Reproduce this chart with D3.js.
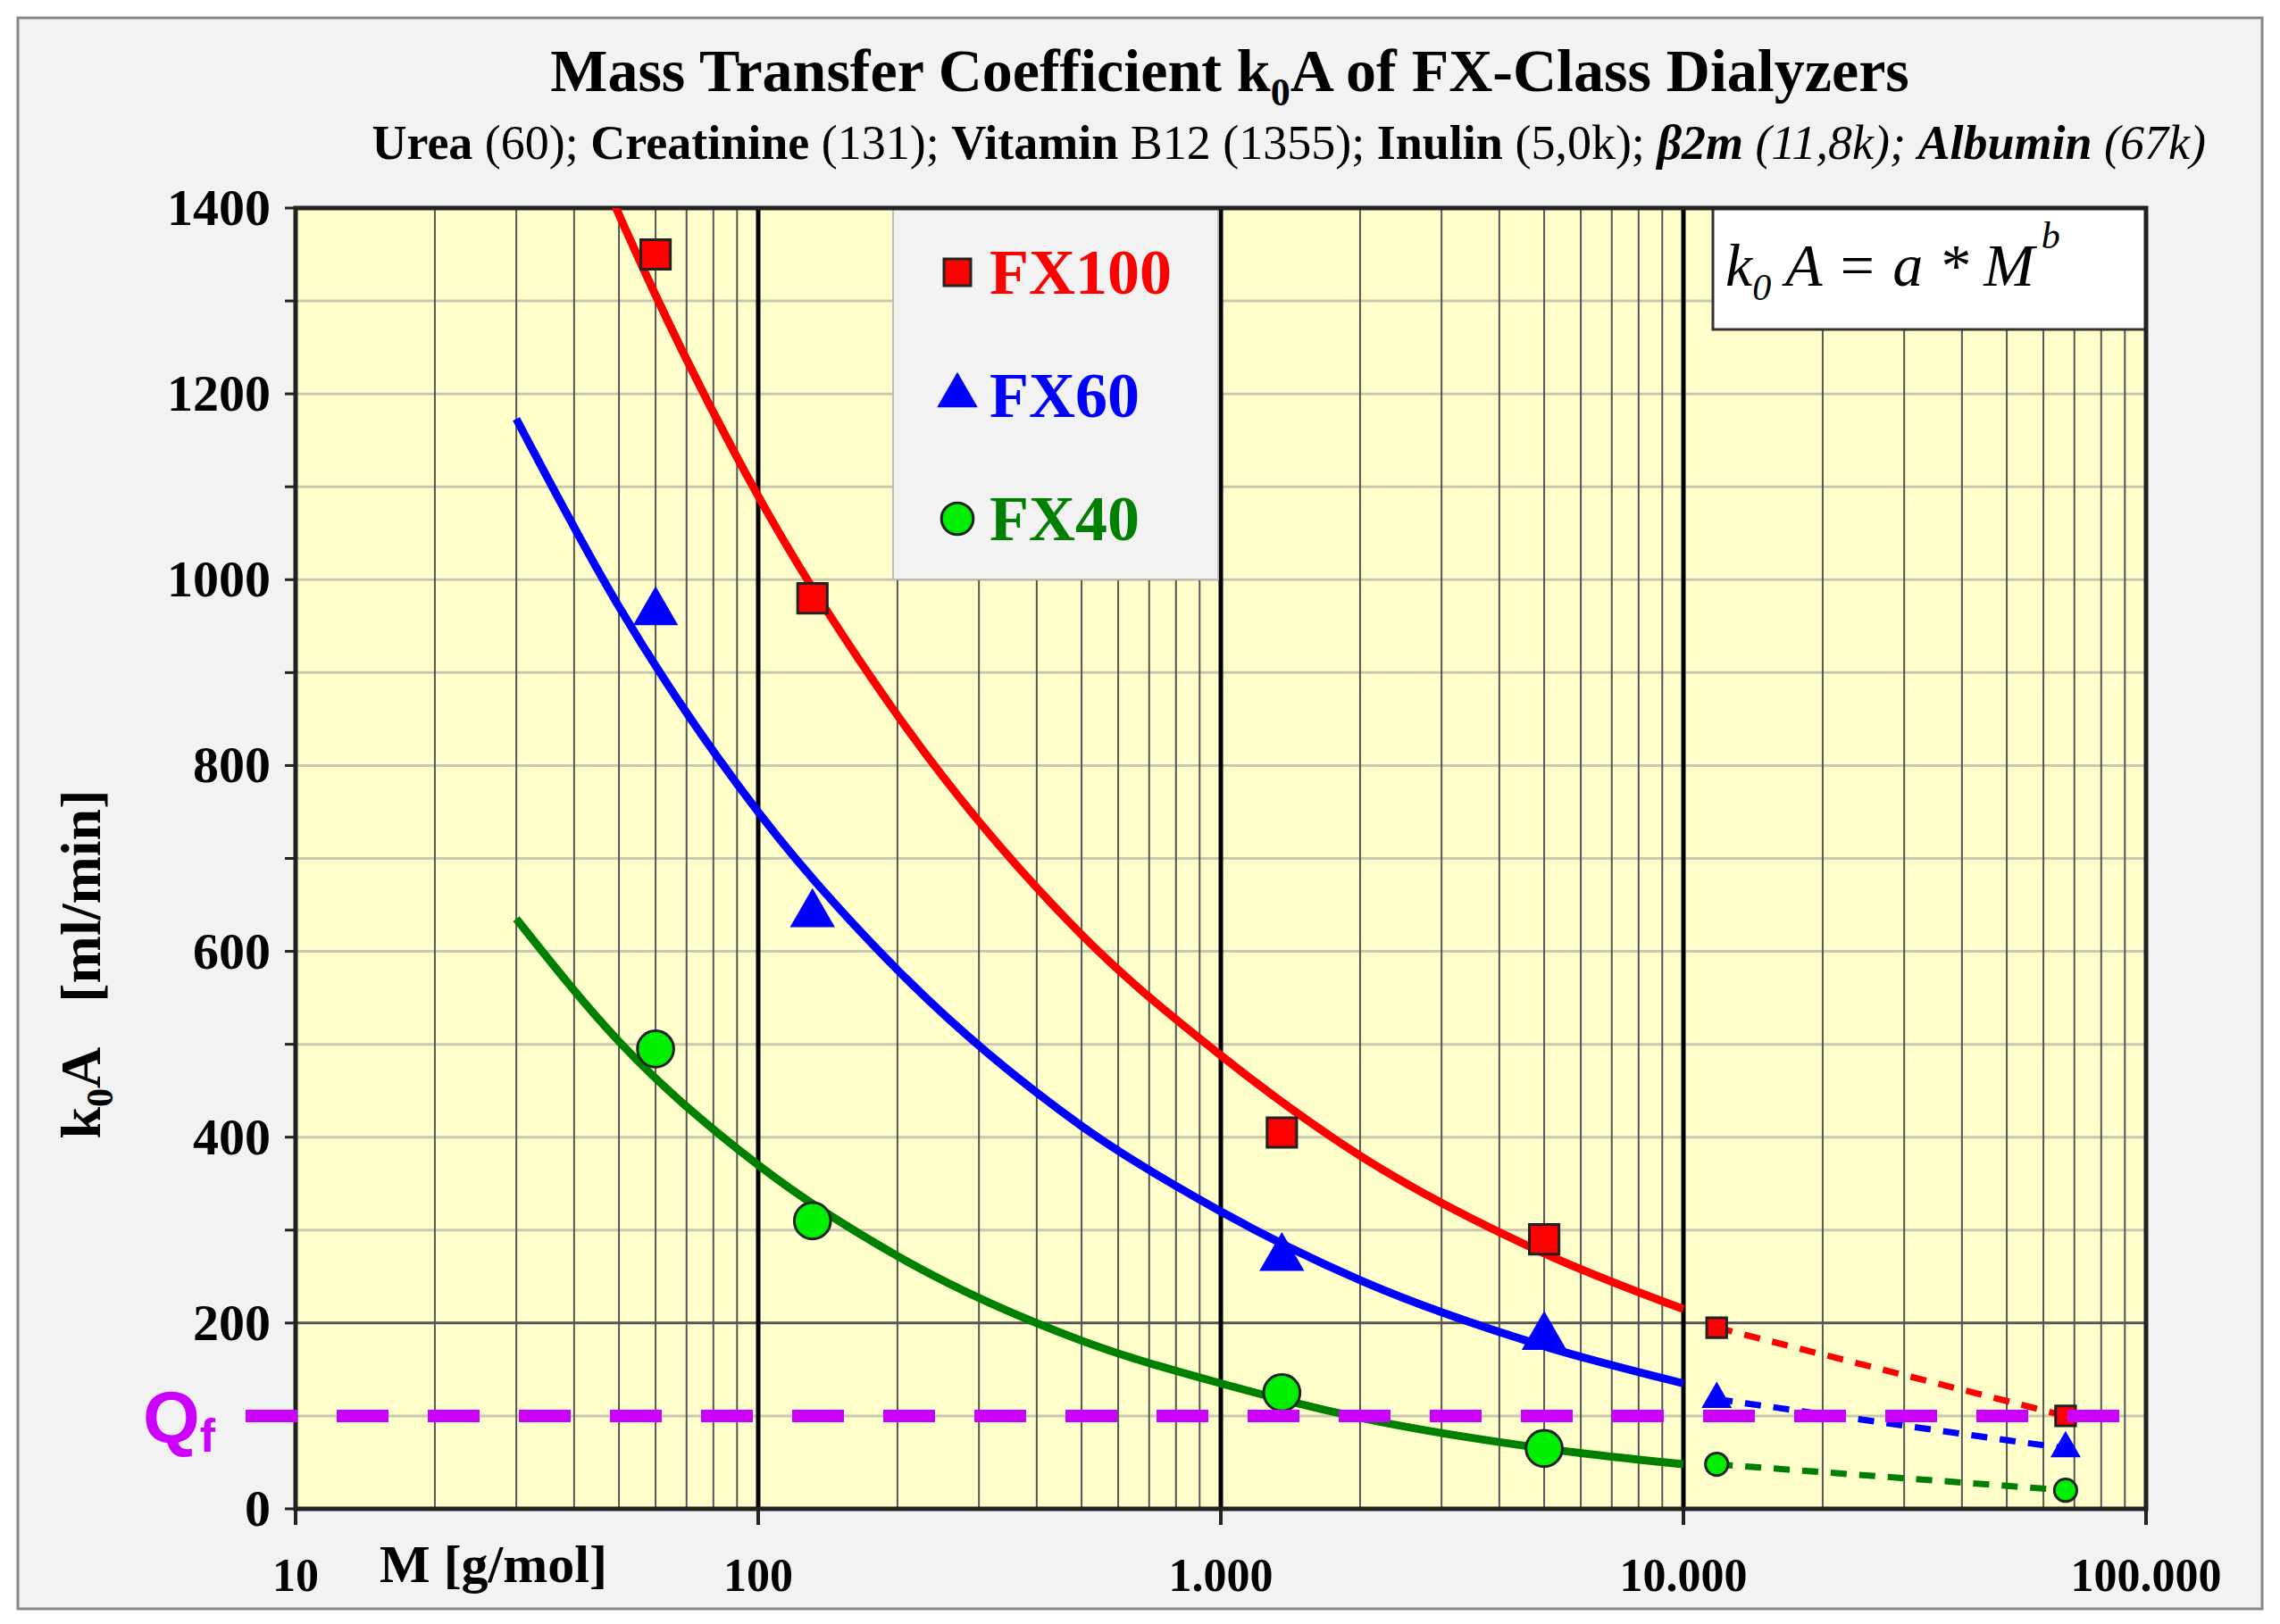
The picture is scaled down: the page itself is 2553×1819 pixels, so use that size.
<!DOCTYPE html>
<html><head><meta charset="utf-8">
<script src="https://cdn.jsdelivr.net/npm/d3@7"></script>
<style>body{margin:0;background:#fff}text,tspan{font-family:"Liberation Serif","Times New Roman",serif}</style>
</head><body>
<svg id="c" width="2553" height="1819"></svg>
<script>
// measured markers: molecular weight and k0A per dialyzer
const molWeights = [60, 131, 1355, 5000, 11800, 67000];
const fx100 = [1350, 980, 405, 290, 195, 100];
const fx60 = [965, 640, 270, 185, 118, 65];
const fx40 = [495, 310, 125, 65, 48, 20];
// fitted curves
const curveM = [30, 50, 100, 200, 500, 1000, 2000, 5000, 10000];
const curve100 = [1666, 1393, 1090, 854, 618, 488, 380, 275, 215];
const curve60 = [1173, 971, 750, 580, 412, 320, 246, 175, 135];
const curve40 = [635, 503, 370, 272, 181, 135, 98, 65, 48];
const yTicks = [0, 200, 400, 600, 800, 1000, 1200, 1400];
const xTicks = [10, 100, 1000, 10000, 100000];
const xTickLabels = ['10', '100', '1.000', '10.000', '100.000'];
const qf = 100;

const svg = d3.select('#c');
const L = 331, R = 2403, T = 233, B = 1690;
const x = d3.scaleLog().domain([10, 100000]).range([L, R]);
const y = d3.scaleLinear().domain([0, 1400]).range([B, T]);

// outer frame
svg.append('rect').attr('x', 20).attr('y', 20).attr('width', 2513).attr('height', 1782)
  .attr('fill', '#f2f2f2').attr('stroke', '#888').attr('stroke-width', 3);
svg.append('rect').attr('x', L).attr('y', T).attr('width', R - L).attr('height', B - T).attr('fill', '#ffffcc');

// horizontal grid
svg.append('g').selectAll('line').data(d3.range(100, 1400, 100)).enter().append('line')
  .attr('x1', L).attr('x2', R).attr('y1', d => y(d)).attr('y2', d => y(d))
  .attr('stroke', d => d === 200 ? '#555' : '#c8c8b0').attr('stroke-width', 3);
// vertical minor grid
const minor = [];
[10, 100, 1000, 10000].forEach(d => { for (let k = 2; k <= 9; k++) minor.push(d * k); });
svg.append('g').selectAll('line').data(minor).enter().append('line')
  .attr('x1', d => x(d)).attr('x2', d => x(d)).attr('y1', T).attr('y2', B)
  .attr('stroke', '#555').attr('stroke-width', 2);
svg.append('g').selectAll('line').data(xTicks.slice(1, 4)).enter().append('line')
  .attr('x1', d => x(d)).attr('x2', d => x(d)).attr('y1', T).attr('y2', B)
  .attr('stroke', '#000').attr('stroke-width', 5);

// legend & formula boxes drawn over grid
svg.append('rect').attr('x', 1000).attr('y', T).attr('width', 364).attr('height', 416)
  .attr('fill', '#f2f2f2').attr('stroke', '#bbb').attr('stroke-width', 2);
svg.append('rect').attr('x', 1918).attr('y', T).attr('width', R - 1918).attr('height', 136)
  .attr('fill', '#fff').attr('stroke', '#333').attr('stroke-width', 3);

// axes frame
svg.append('rect').attr('x', L).attr('y', T).attr('width', R - L).attr('height', B - T)
  .attr('fill', 'none').attr('stroke', '#222').attr('stroke-width', 5);

// y ticks
svg.append('g').selectAll('text').data(yTicks).enter().append('text')
  .attr('x', L - 28).attr('y', d => y(d) + 19).attr('text-anchor', 'end')
  .attr('font-size', 58).attr('font-weight', 'bold').text(d => d);
svg.append('g').selectAll('line').data(d3.range(0, 1401, 100)).enter().append('line')
  .attr('x1', L - 12).attr('x2', L).attr('y1', d => y(d)).attr('y2', d => y(d))
  .attr('stroke', '#222').attr('stroke-width', 3);
// x ticks
svg.append('g').selectAll('line').data(xTicks).enter().append('line')
  .attr('x1', d => x(d)).attr('x2', d => x(d)).attr('y1', B).attr('y2', B + 18)
  .attr('stroke', '#222').attr('stroke-width', 4);
svg.append('g').selectAll('text').data(xTicks).enter().append('text')
  .attr('x', d => x(d)).attr('y', 1782).attr('text-anchor', 'middle')
  .attr('font-size', 52).attr('font-weight', 'bold').text((d, i) => xTickLabels[i]);
svg.append('text').attr('x', 425).attr('y', 1772).attr('font-size', 60).attr('font-weight', 'bold').text('M [g/mol]');

// y title
const yt = svg.append('text').attr('transform', 'translate(112,1080) rotate(-90)')
  .attr('text-anchor', 'middle').attr('font-size', 64).attr('font-weight', 'bold');
yt.append('tspan').text('k');
yt.append('tspan').attr('font-size', 42).attr('dy', 14).text('0');
yt.append('tspan').attr('dy', -14).text('A');
yt.append('tspan').attr('dx', 50).text('[ml/min]');

// title
const tt = svg.append('text').attr('x', 1377).attr('y', 102).attr('text-anchor', 'middle')
  .attr('font-size', 68).attr('font-weight', 'bold');
tt.append('tspan').text('Mass Transfer Coefficient k');
tt.append('tspan').attr('font-size', 44).attr('dy', 16).text('0');
tt.append('tspan').attr('dy', -16).text('A of FX-Class Dialyzers');
const st = svg.append('text').attr('x', 2470).attr('y', 178).attr('font-size', 54).attr('text-anchor', 'end');
[['Urea', 'b'], [' (60); ', ''], ['Creatinine', 'b'], [' (131); ', ''], ['Vitamin', 'b'], [' B12 (1355);  ', ''],
 ['Inulin', 'b'], [' (5,0k); ', ''], ['β2m', 'bi'], [' (11,8k); ', 'i'], ['Albumin', 'bi'], [' (67k)', 'i']]
  .forEach(([t, s]) => st.append('tspan').attr('font-weight', s.includes('b') ? 'bold' : 'normal')
    .attr('font-style', s.includes('i') ? 'italic' : 'normal').text(t));

// formula
const ft = svg.append('text').attr('x', 1932).attr('y', 320).attr('font-size', 68).attr('font-style', 'italic');
ft.append('tspan').text('k');
ft.append('tspan').attr('font-size', 42).attr('dy', 16).text('0');
ft.append('tspan').attr('dy', -16).text(' A = a * M');
ft.append('tspan').attr('font-size', 42).attr('dx', 8).attr('dy', -42).text('b');

const series = [
  { name: 'FX100', vals: fx100, curve: curve100, line: '#ff0000', fill: '#ff0000', shape: d3.symbolSquare },
  { name: 'FX60', vals: fx60, curve: curve60, line: '#0000ff', fill: '#0000ff', shape: d3.symbolTriangle },
  { name: 'FX40', vals: fx40, curve: curve40, line: '#008000', fill: '#00ee00', shape: d3.symbolCircle }
];

const clip = svg.append('clipPath').attr('id', 'pc');
clip.append('rect').attr('x', L).attr('y', T).attr('width', R - L).attr('height', B - T);
const plot = svg.append('g').attr('clip-path', 'url(#pc)');
const lineGen = d3.line().x(d => x(d[0])).y(d => y(d[1])).curve(d3.curveMonotoneX);

series.forEach(s => {
  plot.append('path').datum(curveM.map((m, i) => [m, s.curve[i]])).attr('d', lineGen)
    .attr('fill', 'none').attr('stroke', s.line).attr('stroke-width', 9);
  plot.append('path').datum(molWeights.slice(4).map((m, i) => [m, s.vals[i + 4]]))
    .attr('d', d3.line().x(d => x(d[0])).y(d => y(d[1])))
    .attr('fill', 'none').attr('stroke', s.line).attr('stroke-width', 7).attr('stroke-dasharray', '18 14');
});

// Qf line
svg.append('line').attr('x1', 275).attr('x2', 2415).attr('y1', y(qf)).attr('y2', y(qf))
  .attr('stroke', '#cc00ff').attr('stroke-width', 14).attr('stroke-dasharray', '58 44');
const qt = svg.append('text').attr('x', 160).attr('y', y(qf) + 30)
  .attr('font-size', 82).attr('font-weight', 'bold').attr('fill', '#cc00ff');
qt.append('tspan').style('font-family', '"Liberation Sans", Arial, sans-serif').text('Q');
qt.append('tspan').style('font-family', '"Liberation Sans", Arial, sans-serif').attr('font-size', 52).attr('dy', 10).text('f');

series.forEach(s => {
  plot.append('g').selectAll('path').data(molWeights).enter().append('path')
    .attr('transform', (m, i) => `translate(${x(m)},${y(s.vals[i])})`)
    .attr('d', (m, i) => d3.symbol().type(s.shape).size(i < 4 ? (s.shape === d3.symbolCircle ? 1300 : 1100) : 500)())
    .attr('fill', s.fill).attr('stroke', s.shape === d3.symbolTriangle ? 'none' : '#222').attr('stroke-width', 3);
});

// legend
series.forEach((s, i) => {
  const ly = 305 + i * 138;
  svg.append('path').attr('transform', `translate(1072,${ly})`)
    .attr('d', d3.symbol().type(s.shape).size(s.shape === d3.symbolCircle ? 1000 : 900)())
    .attr('fill', s.fill).attr('stroke', s.shape === d3.symbolTriangle ? 'none' : '#222').attr('stroke-width', 3);
  svg.append('text').attr('x', 1108).attr('y', ly + 24).attr('font-size', 72).attr('font-weight', 'bold')
    .attr('fill', s.line).text(s.name);
});
</script>
</body></html>
